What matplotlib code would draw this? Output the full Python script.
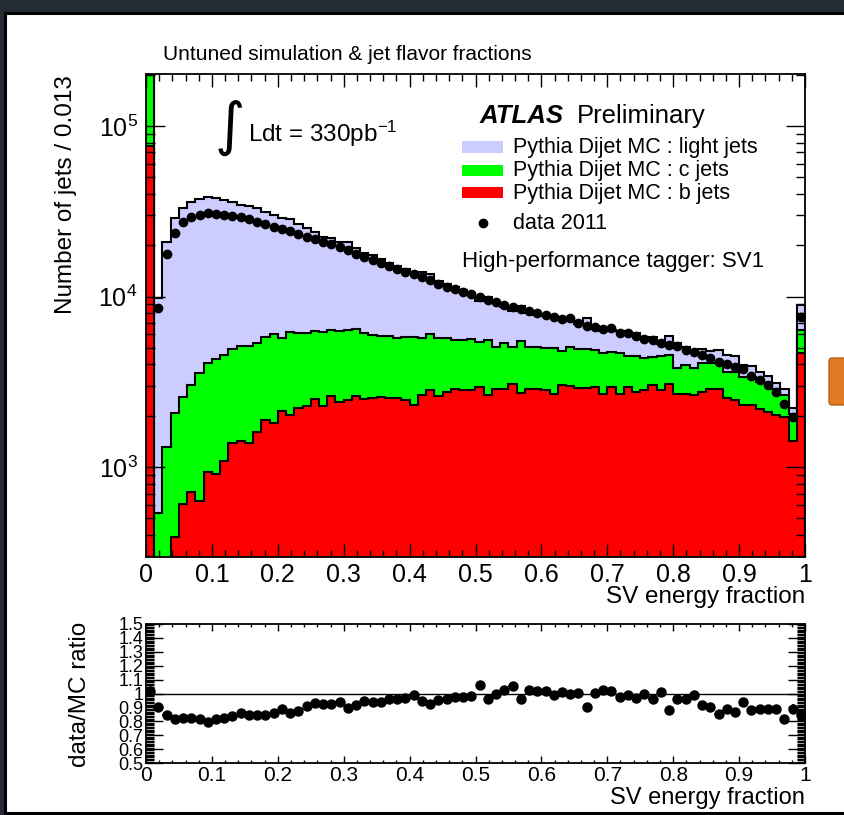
import numpy as np
import matplotlib
matplotlib.use('Agg')
import matplotlib.pyplot as plt
from matplotlib.patches import Rectangle, FancyBboxPatch
from matplotlib.ticker import MultipleLocator, FixedLocator, NullFormatter, FuncFormatter, LogLocator
from matplotlib.lines import Line2D

plt.rcParams['font.family'] = ['Liberation Sans', 'DejaVu Sans']
plt.rcParams['mathtext.fontset'] = 'custom'
plt.rcParams['mathtext.rm'] = 'Liberation Sans'
plt.rcParams['mathtext.it'] = 'Liberation Sans:italic'
plt.rcParams['mathtext.bf'] = 'Liberation Sans:bold'

# SV energy fraction, 80 bins from 0 to 1
edges = np.linspace(0.0, 1.0, 81)

# stacked MC: top of the b layer, top of b+c, top of b+c+light
b_top = [76000, 180, 250, 390, 610, 710, 630, 940, 910, 1080,
         1380, 1420, 1380, 1610, 1900, 1820, 2140, 2020, 2210, 2280,
         2500, 2280, 2610, 2420, 2470, 2600, 2500, 2550, 2580, 2530,
         2530, 2470, 2310, 2640, 2830, 2610, 2760, 2890, 2830, 2830,
         2960, 2640, 2860, 2860, 3070, 2730, 2890, 2890, 2830, 2700,
         3040, 3000, 2900, 2920, 2960, 2680, 2960, 2680, 2960, 2760,
         2830, 3030, 2830, 3090, 2680, 2680, 2640, 2760, 2890, 2890,
         2530, 2470, 2300, 2310, 2200, 2100, 2020, 1970, 1420, 4650]

c_top = [320000, 535, 1320, 2080, 2570, 3030, 3570, 4090, 4300, 4540,
         4920, 5130, 5130, 5320, 5810, 6000, 5730, 6220, 6090, 6090,
         6310, 6170, 6370, 6310, 6370, 6450, 6090, 5950, 5900, 5850,
         5680, 5810, 5800, 5750, 6000, 5680, 5680, 5600, 5560, 5650,
         5430, 5560, 5080, 5320, 5080, 5480, 5080, 5080, 5000, 4970,
         4810, 5030, 4900, 4940, 4860, 4650, 4730, 4650, 4470, 4470,
         4340, 4420, 4470, 4540, 3790, 3960, 3790, 4090, 4060, 4060,
         3620, 3620, 3390, 3390, 3150, 3100, 2890, 2640, 2060, 6400]

mc_total = [450000, 9800, 20900, 28800, 32900, 36000, 37200, 38500, 37700, 36800,
            36000, 34500, 34100, 32900, 31400, 30100, 28800, 28400, 26500, 25100,
            24000, 22400, 22000, 20900, 20800, 19400, 18000, 17500, 16700, 15700,
            15200, 14500, 13700, 13900, 13600, 12400, 11900, 11400, 11000, 10500,
            9400, 9960, 9270, 8700, 8230, 8770, 8040, 7840, 7650, 7720,
            7330, 7500, 6930, 7450, 6620, 6290, 6400, 6290, 6160, 6080,
            5650, 5770, 5260, 5910, 5320, 5050, 4820, 4950, 4810, 4850,
            4540, 4470, 3990, 3900, 3630, 3400, 3110, 2880, 2210, 8970]

data_2011 = [458000, 8600, 17700, 23500, 27200, 29300, 30100, 30800, 30600, 30200,
             29700, 29300, 28500, 27500, 26500, 25600, 24900, 24200, 23400, 22400,
             21900, 20900, 20400, 19600, 18700, 17700, 17000, 16400, 15700, 15100,
             14600, 14000, 13500, 13100, 12500, 11800, 11400, 11100, 10700, 10300,
             9980, 9530, 9250, 8910, 8670, 8450, 8220, 7970, 7780, 7610,
             7400, 7450, 6960, 6720, 6650, 6430, 6510, 6130, 6090, 5890,
             5610, 5560, 5320, 5200, 5130, 4860, 4750, 4540, 4340, 4150,
             4020, 3880, 3740, 3420, 3240, 3030, 2770, 2360, 1970, 7600]

ratio = [1.017, 0.904, 0.842, 0.818, 0.823, 0.825, 0.820, 0.796, 0.818, 0.823,
         0.837, 0.861, 0.842, 0.844, 0.847, 0.861, 0.885, 0.861, 0.871, 0.909,
         0.930, 0.928, 0.928, 0.938, 0.897, 0.914, 0.945, 0.938, 0.938, 0.962,
         0.962, 0.966, 0.988, 0.945, 0.921, 0.952, 0.962, 0.974, 0.974, 0.981,
         1.062, 0.957, 0.998, 1.024, 1.053, 0.964, 1.022, 1.017, 1.017, 0.986,
         1.010, 0.993, 1.005, 0.902, 1.005, 1.022, 1.017, 0.974, 0.988, 0.969,
         0.993, 0.964, 1.012, 0.880, 0.964, 0.962, 0.986, 0.918, 0.902, 0.856,
         0.885, 0.868, 0.938, 0.878, 0.892, 0.892, 0.890, 0.820, 0.892, 0.847]
ratio_err = [0.004] * 76 + [0.008, 0.012, 0.035, 0.010]

legend_labels = ['Pythia Dijet MC : light jets', 'Pythia Dijet MC : c jets',
                 'Pythia Dijet MC : b jets']
fill_colors = ['#ccccff', '#00ff00', '#ff0000']

centers = 0.5 * (edges[1:] + edges[:-1])
half_bin = 0.5 * (edges[1] - edges[0])

W, H = 845, 815
def fx(x):
    return x / W
def fy(y):
    return 1 - y / H

fig = plt.figure(figsize=(W / 100, H / 100), dpi=100, facecolor='#262c35')
fig.add_artist(Rectangle((fx(5), fy(813)), fx(900) - fx(5), fy(13) - fy(813),
                         transform=fig.transFigure, facecolor='white',
                         edgecolor='black', lw=2.2, zorder=-1))

# orange button sticking in from the right
fig.add_artist(FancyBboxPatch((fx(829), fy(405)), fx(880) - fx(829), fy(358) - fy(405),
                              boxstyle='round,pad=0,rounding_size=0.004',
                              transform=fig.transFigure, facecolor='#e27a24',
                              edgecolor='#b8601a', lw=1.0, zorder=1))

# ---- main panel
ax = fig.add_axes([fx(146), fy(557), fx(805) - fx(146), fy(74) - fy(557)])
for top, col in zip([mc_total, c_top, b_top], fill_colors):
    ax.stairs(top, edges, baseline=1, fill=True, facecolor=col,
              edgecolor='black', lw=1.5, zorder=1)
ax.plot(centers, data_2011, 'o', color='black', ms=6, zorder=3)

ax.set_yscale('log')
ax.set_xlim(0, 1)
ax.set_ylim(297, 2.02e5)
ax.yaxis.set_major_locator(FixedLocator([1e3, 1e4, 1e5]))
ax.yaxis.set_minor_locator(LogLocator(base=10, subs=np.arange(2, 10)))
ax.yaxis.set_minor_formatter(NullFormatter())
ax.xaxis.set_major_locator(MultipleLocator(0.1))
ax.xaxis.set_minor_locator(MultipleLocator(0.02))
ax.xaxis.set_major_formatter(FuncFormatter(lambda v, p: '%g' % round(v, 2)))
ax.tick_params(axis='both', which='both', direction='in', top=True, right=True,
               width=1.0, labelsize=18)
ax.tick_params(axis='x', which='major', length=9.5, pad=4)
ax.tick_params(axis='x', which='minor', length=5)
ax.tick_params(axis='y', which='major', length=14, pad=6)
ax.tick_params(axis='y', which='minor', length=6.5)
for s in ax.spines.values():
    s.set_linewidth(1.3)
    s.set_zorder(5)

# ---- ratio panel
rx = fig.add_axes([fx(146), fy(763), fx(805) - fx(146), fy(624) - fy(763)])
rx.axhline(1.0, color='black', lw=1.0)
rx.errorbar(centers, ratio, yerr=ratio_err, xerr=half_bin, fmt='o', color='black',
            ms=6.5, elinewidth=1.2, capsize=0)
rx.set_xlim(0, 1)
rx.set_ylim(0.5, 1.5)
rx.yaxis.set_major_locator(MultipleLocator(0.1))
rx.yaxis.set_minor_locator(MultipleLocator(0.01))
rx.yaxis.set_major_formatter(FuncFormatter(lambda v, p: '%g' % round(v, 2)))
rx.xaxis.set_major_locator(MultipleLocator(0.1))
rx.xaxis.set_minor_locator(MultipleLocator(0.02))
rx.xaxis.set_major_formatter(FuncFormatter(lambda v, p: '%g' % round(v, 2)))
rx.tick_params(axis='both', which='both', direction='in', top=True, right=True, width=1.0)
rx.tick_params(axis='x', which='major', length=5, pad=2, labelsize=15)
rx.tick_params(axis='x', which='minor', length=2.5)
rx.tick_params(axis='y', which='major', length=12, pad=2, labelsize=13)
rx.tick_params(axis='y', which='minor', length=6)
for s in rx.spines.values():
    s.set_linewidth(1.3)

# ---- titles and labels
fig.text(fx(163), fy(59.5), 'Untuned simulation & jet flavor fractions', fontsize=15,
         ha='left', va='baseline')
fig.text(fx(66), fy(75), 'Number of jets / 0.013', fontsize=17.5, rotation=90,
         ha='center', va='top')
fig.text(fx(805), fy(603), 'SV energy fraction', fontsize=17.5, ha='right', va='baseline')
fig.text(fx(805), fy(804), 'SV energy fraction', fontsize=17, ha='right', va='baseline')
fig.text(fx(80), fy(694), 'data/MC ratio', fontsize=17.5, rotation=90,
         ha='center', va='center')

# luminosity
fig.text(fx(230), fy(128), '\u222b', family='DejaVu Sans', fontsize=42,
         ha='center', va='center')
fig.text(fx(248), fy(141.7), r'Ldt = 330pb$^{-1}$', fontsize=17.5, ha='left',
         va='baseline')

fig.text(fx(480), fy(123.3), 'ATLAS', fontsize=18.5, fontweight='bold',
         style='italic', ha='left', va='baseline')
fig.text(fx(577), fy(123.3), 'Preliminary', fontsize=18.5, ha='left', va='baseline')

# legend
box_rows = [(141, 153, 153), (165, 176, 176), (187, 198, 198.5)]
for (y0, y1, base), lab, col in zip(box_rows, legend_labels, fill_colors):
    fig.add_artist(Rectangle((fx(462), fy(y1)), fx(503) - fx(462), fy(y0) - fy(y1),
                             transform=fig.transFigure, facecolor=col,
                             edgecolor='none', zorder=5))
    fig.text(fx(513), fy(base), lab, fontsize=15.5, ha='left', va='baseline')
fig.add_artist(Line2D([fx(483)], [fy(222.5)], marker='o', color='black', ms=6,
                      transform=fig.transFigure, zorder=5))
fig.text(fx(513), fy(229.3), 'data 2011', fontsize=15.5, ha='left', va='baseline')
fig.text(fx(462), fy(266.5), 'High-performance tagger: SV1', fontsize=16,
         ha='left', va='baseline')

fig.savefig('out.png', dpi=100, facecolor=fig.get_facecolor())
